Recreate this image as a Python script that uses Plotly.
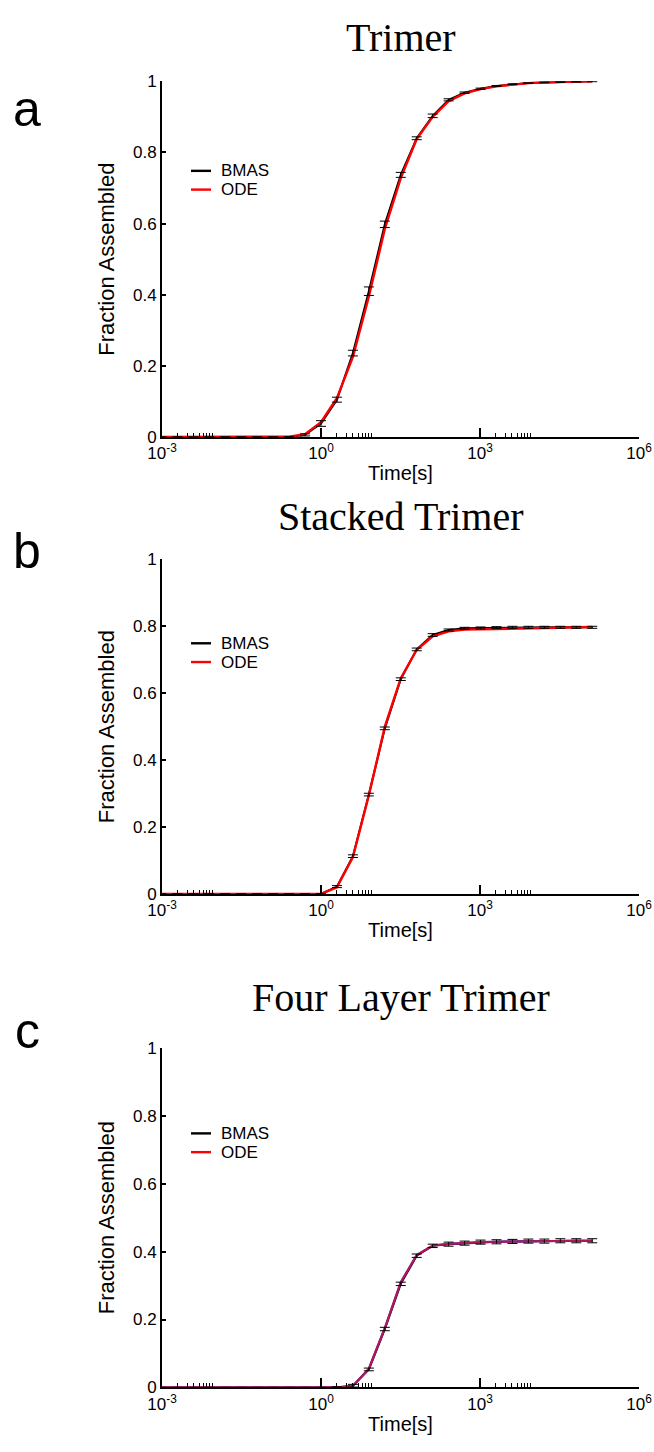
import plotly.graph_objects as go

# ---------------- data ----------------
exponents = list(range(-10, 18))          # time points: 2**k seconds
time_s = [2.0 ** k for k in exponents]

# Panel a: Trimer
bmas_a = [0, 0, 0, 0, 0, 0, 0, 0, 0.0, 0.006, 0.038, 0.105, 0.236, 0.41, 0.598, 0.737,
          0.84, 0.903, 0.948, 0.968, 0.979, 0.987, 0.992, 0.995, 0.997, 0.998, 0.999, 1.0]
err_a = [0, 0, 0, 0, 0, 0, 0, 0, 0.001, 0.003, 0.008, 0.007, 0.008, 0.012, 0.009, 0.007,
         0.004, 0.005, 0.003, 0.002, 0.002, 0.001, 0.001, 0.001, 0.001, 0.001, 0.001, 0.001]
ode_a = [0, 0, 0, 0, 0, 0, 0, 0, 0.001, 0.008, 0.042, 0.11, 0.225, 0.395, 0.585, 0.728,
         0.838, 0.9, 0.944, 0.966, 0.978, 0.986, 0.991, 0.995, 0.997, 0.998, 0.999, 1.0]

# Panel b: Stacked Trimer
bmas_b = [0, 0, 0, 0, 0, 0, 0, 0, 0, 0, 0.0, 0.022, 0.113, 0.297, 0.495, 0.642,
          0.731, 0.774, 0.789, 0.794, 0.795, 0.796, 0.797, 0.797, 0.797, 0.797, 0.797, 0.797]
err_b = [0, 0, 0, 0, 0, 0, 0, 0, 0, 0, 0.001, 0.003, 0.004, 0.004, 0.004, 0.004,
         0.004, 0.004, 0.003, 0.003, 0.003, 0.003, 0.003, 0.003, 0.003, 0.003, 0.003, 0.003]
ode_b = [0, 0, 0, 0, 0, 0, 0, 0, 0, 0, 0.0, 0.02, 0.11, 0.295, 0.5, 0.645,
         0.73, 0.77, 0.785, 0.79, 0.791, 0.792, 0.792, 0.793, 0.793, 0.794, 0.795, 0.798]

# Panel c: Four Layer Trimer
bmas_c = [0, 0, 0, 0, 0, 0, 0, 0, 0, 0, 0, 0.0, 0.005, 0.053, 0.172, 0.305,
          0.388, 0.417, 0.422, 0.425, 0.428, 0.429, 0.43, 0.431, 0.431, 0.432, 0.432, 0.432]
err_c = [0, 0, 0, 0, 0, 0, 0, 0, 0, 0, 0, 0.002, 0.004, 0.004, 0.005, 0.005,
         0.005, 0.005, 0.006, 0.006, 0.006, 0.006, 0.006, 0.006, 0.006, 0.006, 0.006, 0.006]
ode_c = [0, 0, 0, 0, 0, 0, 0, 0, 0, 0, 0, 0.0, 0.004, 0.055, 0.175, 0.31,
         0.39, 0.418, 0.423, 0.426, 0.428, 0.429, 0.43, 0.43, 0.431, 0.431, 0.432, 0.432]

titles = ["Trimer", "Stacked Trimer", "Four Layer Trimer"]
letters = ["a", "b", "c"]
legend_names = ["BMAS", "ODE"]
x_tickvals = [1e-3, 1e0, 1e3, 1e6]
x_ticktext = ["10<sup>-3</sup>", "10<sup>0</sup>", "10<sup>3</sup>", "10<sup>6</sup>"]
x_minor = [m * 10.0 ** d for d in (-3, 0, 3) for m in range(2, 10)]
y_tickvals = [0, 0.2, 0.4, 0.6, 0.8, 1]

panels = [(bmas_a, err_a, ode_a), (bmas_b, err_b, ode_b), (bmas_c, err_c, ode_c)]

# ---------------- layout geometry ----------------
W, H = 654, 1452
ML, MR = 162, 15
PW = W - ML - MR
y_domains = [(73.3, 433.7), (557.7, 896.7), (1052.7, 1396.7)]   # px from top
title_y = [28.5, 514.5, 1001.5]
letter_y = [101.7, 548.7, 1035.7]
legend_y = [(164, 183), (642.7, 661.7), (1139.3, 1158.3)]


def px_x(px):
    return (px - ML) / PW


def px_y(py):
    return (H - py) / H


SANS = "Liberation Sans, Arial, Helvetica, sans-serif"
SERIF = "Liberation Serif, Times New Roman, serif"

fig = go.Figure()

for i, (bm, er, od) in enumerate(panels):
    xa = "x" if i == 0 else f"x{i+1}"
    ya = "y" if i == 0 else f"y{i+1}"
    fig.add_trace(go.Scatter(x=time_s, y=bm, mode="lines", name="BMAS",
                             line=dict(color="black", width=2), xaxis=xa, yaxis=ya,
                             showlegend=False))
    if i == 2:
        fig.add_trace(go.Scatter(x=time_s, y=od, mode="lines", name="ODE (model)",
                                 line=dict(color="#2040ff", width=2.2), xaxis=xa, yaxis=ya,
                                 showlegend=False))
        fig.add_trace(go.Scatter(x=time_s, y=od, mode="lines", name="ODE",
                                 line=dict(color="red", width=2.2), opacity=0.66,
                                 xaxis=xa, yaxis=ya, showlegend=False))
    else:
        fig.add_trace(go.Scatter(x=time_s, y=od, mode="lines", name="ODE",
                                 line=dict(color="red", width=2.4), xaxis=xa, yaxis=ya,
                                 showlegend=False))
    fig.add_trace(go.Scatter(x=time_s, y=bm, mode="markers", name="BMAS error",
                             marker=dict(size=1, color="rgba(0,0,0,0)"),
                             error_y=dict(type="data", array=er, color="black",
                                          thickness=1, width=5),
                             xaxis=xa, yaxis=ya, showlegend=False))

layout = dict(width=W, height=H, paper_bgcolor="white", plot_bgcolor="white",
              margin=dict(l=ML, r=MR, t=0, b=0), showlegend=False,
              font=dict(family=SANS, size=17, color="black"))

axis_common = dict(showline=True, linecolor="black", linewidth=2, showgrid=False,
                   zeroline=False, mirror=False, ticks="inside", tickcolor="black")

annotations = []
shapes = []
for i in range(3):
    xk = "xaxis" if i == 0 else f"xaxis{i+1}"
    yk = "yaxis" if i == 0 else f"yaxis{i+1}"
    ya = "y" if i == 0 else f"y{i+1}"
    xa = "x" if i == 0 else f"x{i+1}"
    top, bot = y_domains[i]
    layout[xk] = dict(axis_common, type="log", range=[-3, 6], domain=[0, 1], anchor=ya,
                      tickmode="array", tickvals=x_tickvals, ticktext=x_ticktext,
                      ticklen=9, tickwidth=2, tickfont=dict(size=17),
                      minor=dict(tickmode="array", tickvals=x_minor, ticks="inside",
                                 ticklen=4, tickwidth=1.2, tickcolor="black", showgrid=False),
                      title=dict(text="Time[s]", font=dict(size=20), standoff=4))
    layout[yk] = dict(axis_common, range=[0, 1], anchor=xa,
                      domain=[px_y(bot), px_y(top)],
                      tickmode="array", tickvals=y_tickvals, ticklen=4, tickwidth=2,
                      tickfont=dict(size=17),
                      title=dict(text="Fraction Assembled", font=dict(size=22), standoff=12))
    # panel title
    annotations.append(dict(text=titles[i], x=0.5, y=px_y(title_y[i]),
                            xref="paper", yref="paper", xanchor="center", yanchor="middle",
                            showarrow=False, font=dict(family=SERIF, size=40, color="black")))
    # panel letter
    annotations.append(dict(text=letters[i], x=px_x(27), y=px_y(letter_y[i]),
                            xref="paper", yref="paper", xanchor="center", yanchor="middle",
                            showarrow=False, font=dict(family=SANS, size=50, color="black")))
    # legend
    for j, (name, col) in enumerate(zip(legend_names, ["black", "red"])):
        yy = px_y(legend_y[i][j])
        shapes.append(dict(type="line", xref="paper", yref="paper",
                           x0=px_x(191), x1=px_x(211), y0=yy, y1=yy,
                           line=dict(color=col, width=2.4)))
        annotations.append(dict(text=name, x=px_x(219), y=yy, xref="paper", yref="paper",
                                xanchor="left", yanchor="middle", showarrow=False,
                                font=dict(family=SANS, size=17, color="black")))

layout["annotations"] = annotations
layout["shapes"] = shapes
fig.update_layout(**layout)

fig.write_html("out.html", config={"displayModeBar": False},
               post_script="document.body.style.margin='0';document.body.style.padding='0';")
